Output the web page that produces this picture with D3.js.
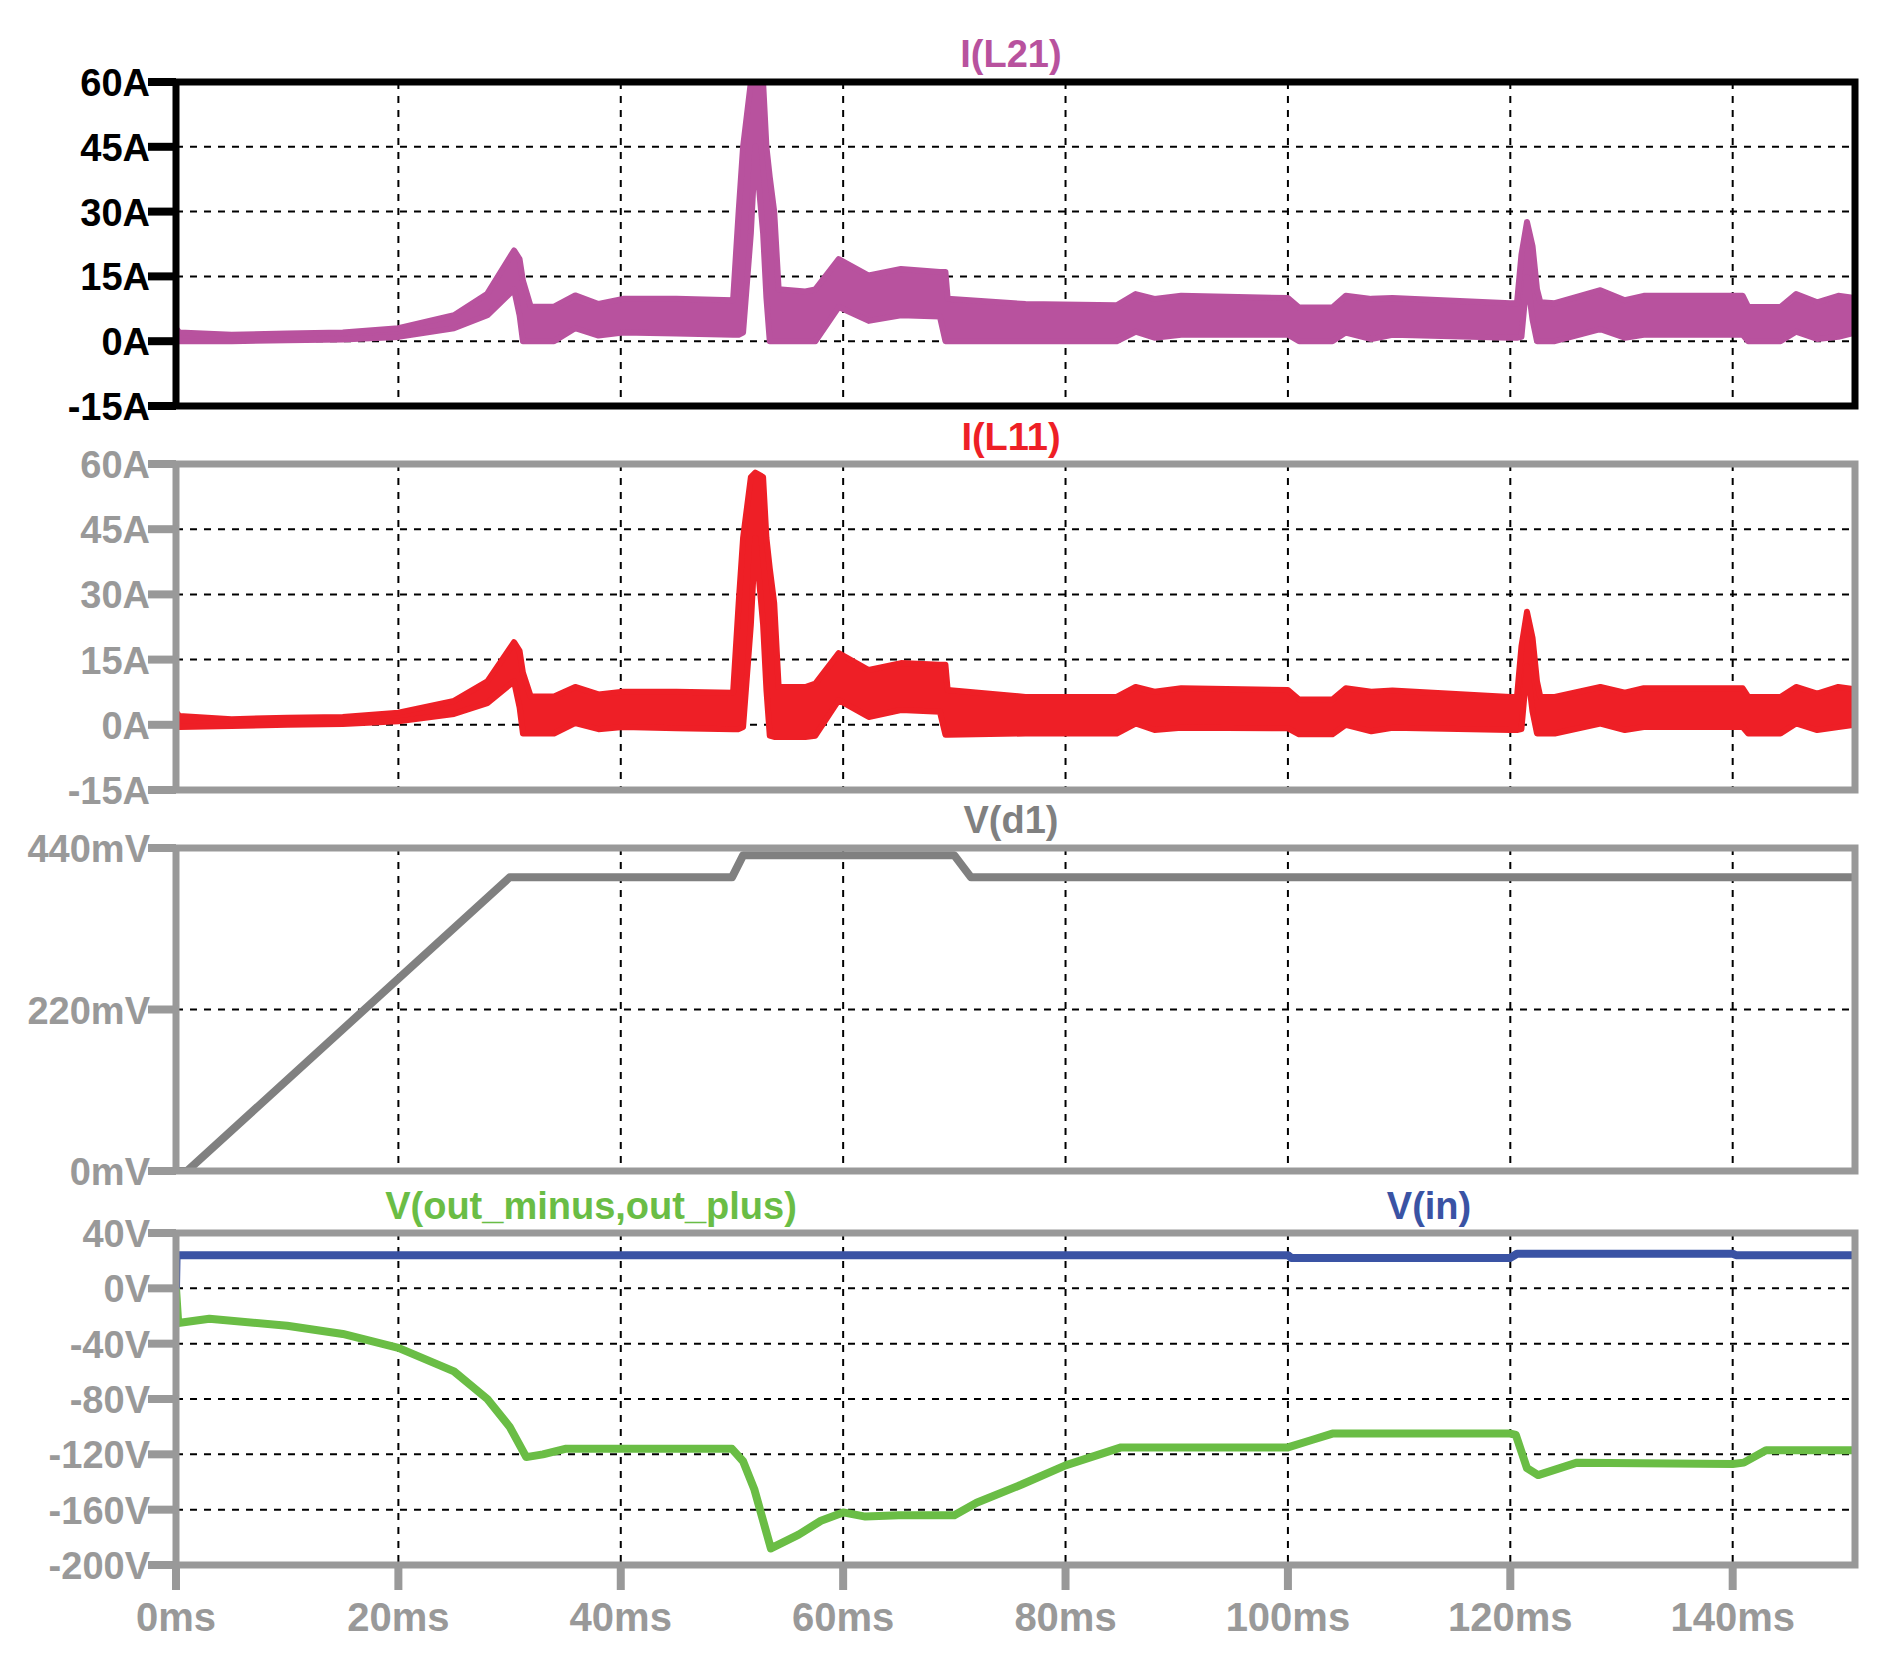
<!DOCTYPE html>
<html lang="en">
<head>
<meta charset="UTF-8">
<title>Transient waveforms</title>
<style>
  body { margin: 0; background: #fff; }
  svg text { font-family: "Liberation Sans", Arial, sans-serif; font-weight: bold; }
</style>
</head>
<body>
<svg id="chart" width="1889" height="1657"></svg>
<script src="https://cdnjs.cloudflare.com/ajax/libs/d3/7.8.5/d3.min.js"></script>
<script>
// time base (ms) for the two inductor current envelopes
var tI = [0,0.3,5,10,15,20,25,28,30.4,30.9,31.2,31.9,34,35.9,38,40.2,45,50.1,50.6,51.0,51.7,52.1,52.8,53.1,53.4,53.8,54.2,56.6,57.5,59.6,62.3,65.2,68.7,69.2,69.4,76.4,84.6,86.3,88,90.4,100,101,104,105.2,107.5,109.4,120,120.6,121.0,121.5,122.0,122.4,122.7,124,128.1,130.3,132,140.9,141.4,144.3,145.7,147.6,149.5,151];
// I(L21) ripple band, upper / lower (A)
var l21Hi = [3,2,1.5,1.8,2,3,6,11,21,19,14,8,8,10.6,8.6,9.8,9.8,9.5,30,45,60,60,60,45,38,30,12,11.5,12,19,15.2,16.7,16,16,9.8,8.6,8.3,10.9,9.8,10.5,10,7.8,7.8,10.5,9.8,10,8.8,8.8,20,27.6,22,12,9,8.8,11.8,9.5,10.5,10.5,7.9,7.9,10.9,9,10.5,10];
var l21Lo = [0,0,0,0.2,0.4,1,3,6,12,6,0,0,0,3,1.3,2,1.8,1.5,1.5,2,25,45,25,10,0,0,0,0,0,7.9,4.7,6,5.7,0,0,0,0,2.2,0.8,1.5,1.5,0,0,2,0.5,1.5,0.8,0.8,1,14.8,5,0,0,0,2.8,0.8,1.5,1.5,0,0,2.2,0.5,1,2];
// I(L11) ripple band, upper / lower (A)
var l11Hi = [3,2,1.3,1.6,1.8,2.8,5.5,10,19,17,12,6.5,6.5,8.7,7,7.6,7.6,7.4,28,43,57,58,57,43,36,28,8.7,8.7,9.5,16.5,12.6,14.2,13.8,13.8,8,6.4,6.4,8.7,7.6,8.4,8,5.8,5.8,8.4,7.6,7.9,6.4,6.4,18,26,20,10,6.4,6.4,8.7,7.4,8.4,8.4,6.4,6.4,8.7,7.2,8.7,8.2];
var l11Lo = [-0.5,-0.5,-0.3,0,0.2,0.8,2.5,5,10,4,-2,-2,-2,0.4,-1,-0.5,-0.8,-1,-1,-0.5,23,43,23,8,-2.5,-2.8,-2.8,-2.8,-2.5,5.7,1.8,3.4,3,-2.3,-2.3,-2,-2,0.3,-1.2,-0.7,-0.8,-2.2,-2.2,0,-1.5,-0.7,-1.2,-1.2,-1,13.4,3,-2,-2,-2,0.3,-1.2,-0.5,-0.5,-2,-2,0.3,-1.2,-0.5,0];
// V(d1) in mV
var tD1 = [0,1,30,50,51,70,71.5,151];
var vD1 = [0,0,400,400,430,430,400,400];
// V(out_minus,out_plus) in V
var tOut = [0,0.2,3,10,15,20,25,28,30,31.5,33,35,40,50,51,52,53.5,56,58,60,62,65,70,72,76,80,85,100,102,104,120,120.5,121.5,122.5,126,140,141,143,151];
var vOut = [0,-25,-22,-27,-33,-43,-60,-80,-100,-122,-120,-116,-116,-116,-125,-145,-188,-178,-168,-162,-165,-164,-164,-155,-142,-128,-115,-115,-110,-105,-105,-106,-130,-135,-126,-127,-126,-117,-117];
// V(in) in V
var tIn = [0,0.05,100,100.3,120,120.6,140,140.3,151];
var vIn = [0,24,24,22,22,25,25,24,24];

var xTicks = [0,20,40,60,80,100,120,140];
var ampTicks = [-15,0,15,30,45,60];
var mvTicks = [0,220,440];
var voltTicks = [-200,-160,-120,-80,-40,0,40];

var svg = d3.select("#chart");
var x = d3.scaleLinear().domain([0,151]).range([176,1855]);

function zip(t, a, b) {
  return t.map(function(d, i) { return {t: d, a: a[i], b: b ? b[i] : null}; });
}

// one panel: frame, ticks, grid, labels
function panel(opt) {
  var y = d3.scaleLinear().domain(opt.domain).range([opt.bottom, opt.top]);
  var g = svg.append("g");
  var id = "clip" + opt.top;
  svg.append("clipPath").attr("id", id).append("rect")
    .attr("x", x.range()[0]).attr("y", opt.top)
    .attr("width", x.range()[1] - x.range()[0]).attr("height", opt.bottom - opt.top);

  // grid
  g.selectAll(".vg").data(xTicks.slice(1)).enter().append("line")
    .attr("x1", x).attr("x2", x).attr("y1", opt.top).attr("y2", opt.bottom)
    .attr("stroke", "#000").attr("stroke-width", 2).attr("stroke-dasharray", "7,7");
  g.selectAll(".hg").data(opt.ticks.filter(function(d) { return d > opt.domain[0] && d < opt.domain[1]; }))
    .enter().append("line")
    .attr("x1", x.range()[0]).attr("x2", x.range()[1]).attr("y1", y).attr("y2", y)
    .attr("stroke", "#000").attr("stroke-width", 2).attr("stroke-dasharray", "7,7");

  var plot = g.append("g").attr("clip-path", "url(#" + id + ")");
  opt.draw(plot, y);

  // frame
  g.append("rect").attr("x", x.range()[0]).attr("y", opt.top)
    .attr("width", x.range()[1] - x.range()[0]).attr("height", opt.bottom - opt.top)
    .attr("fill", "none").attr("stroke", opt.frame).attr("stroke-width", 7);

  // y ticks + labels
  g.selectAll(".yt").data(opt.ticks).enter().append("line")
    .attr("x1", 148).attr("x2", 176).attr("y1", y).attr("y2", y)
    .attr("stroke", opt.frame).attr("stroke-width", 8);
  g.selectAll(".yl").data(opt.ticks).enter().append("text")
    .attr("x", 150).attr("y", function(d) { return y(d) + 14; })
    .attr("text-anchor", "end").attr("font-size", 38).attr("fill", opt.frame)
    .text(opt.fmt);

  opt.titles.forEach(function(tt) {
    g.append("text").attr("x", tt.x).attr("y", tt.y).attr("text-anchor", "middle")
      .attr("font-size", 38).attr("fill", tt.color).text(tt.text);
  });
  return y;
}

function band(color, hi, lo) {
  return function(plot, y) {
    var area = d3.area().x(function(d) { return x(d.t); })
      .y0(function(d) { return y(d.b); }).y1(function(d) { return y(d.a); });
    plot.append("path").datum(zip(tI, hi, lo)).attr("d", area)
      .attr("fill", color).attr("stroke", color).attr("stroke-width", 6).attr("stroke-linejoin", "round");
  };
}

function lines(list) {
  return function(plot, y) {
    list.forEach(function(s) {
      var ln = d3.line().x(function(d) { return x(d.t); }).y(function(d) { return y(d.a); });
      plot.append("path").datum(zip(s.t, s.v)).attr("d", ln)
        .attr("fill", "none").attr("stroke", s.color).attr("stroke-width", 8)
        .attr("stroke-linejoin", "round");
    });
  };
}

var fmtA = function(d) { return d + "A"; };

panel({top: 82, bottom: 406, domain: [-15,60], ticks: ampTicks, fmt: fmtA, frame: "#000",
  titles: [{x: 1011, y: 67, text: "I(L21)", color: "#b8529e"}],
  draw: band("#b8529e", l21Hi, l21Lo)});

panel({top: 464, bottom: 790, domain: [-15,60], ticks: ampTicks, fmt: fmtA, frame: "#999",
  titles: [{x: 1011, y: 450, text: "I(L11)", color: "#ee1f26"}],
  draw: band("#ee1f26", l11Hi, l11Lo)});

panel({top: 848, bottom: 1171, domain: [0,440], ticks: mvTicks, fmt: function(d) { return d + "mV"; }, frame: "#999",
  titles: [{x: 1011, y: 833, text: "V(d1)", color: "#808080"}],
  draw: lines([{t: tD1, v: vD1, color: "#808080"}])});

panel({top: 1233, bottom: 1565, domain: [-200,40], ticks: voltTicks, fmt: function(d) { return d + "V"; }, frame: "#999",
  titles: [{x: 591, y: 1219, text: "V(out_minus,out_plus)", color: "#6abd45"},
           {x: 1429, y: 1219, text: "V(in)", color: "#3a53a4"}],
  draw: lines([{t: tOut, v: vOut, color: "#6abd45"}, {t: tIn, v: vIn, color: "#3a53a4"}])});

// x axis ticks and labels under bottom panel
svg.selectAll(".xt").data(xTicks).enter().append("line")
  .attr("x1", x).attr("x2", x).attr("y1", 1565).attr("y2", 1590)
  .attr("stroke", "#999").attr("stroke-width", 8);
svg.selectAll(".xl").data(xTicks).enter().append("text")
  .attr("x", x).attr("y", 1631).attr("text-anchor", "middle")
  .attr("font-size", 40).attr("fill", "#999")
  .text(function(d) { return d + "ms"; });
</script>
</body>
</html>
